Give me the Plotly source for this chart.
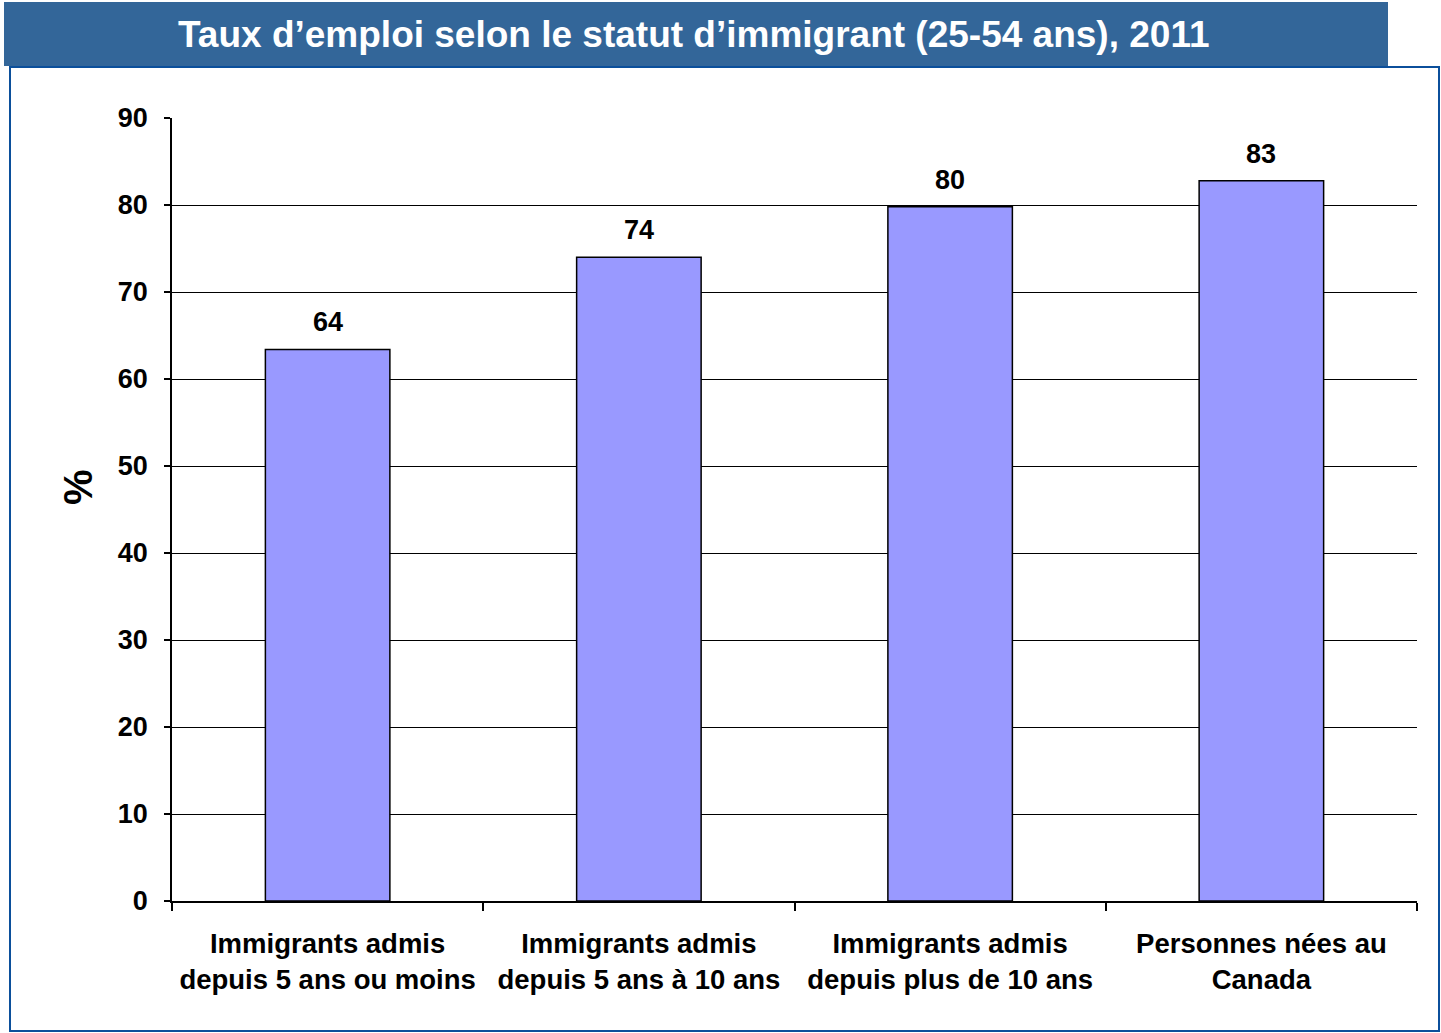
import plotly.graph_objects as go

categories = [
    "Immigrants admis<br>depuis 5 ans ou moins",
    "Immigrants admis<br>depuis 5 ans à 10 ans",
    "Immigrants admis<br>depuis plus de 10 ans",
    "Personnes nées au<br>Canada",
]
values = [63.4, 74.0, 79.8, 82.8]
labels = ["64", "74", "80", "83"]
title_text = "Taux d’emploi selon le statut d’immigrant (25-54 ans), 2011"
y_ticks = [0, 10, 20, 30, 40, 50, 60, 70, 80, 90]

FONT = "Liberation Sans, Arial, sans-serif"

W, H = 1441, 1033
L, R, T, B = 172, 1417, 118, 901
pw, ph = R - L, B - T


def px(x):
    return (x - L) / pw


def py(y):
    return (B - y) / ph


fig = go.Figure()
fig.add_trace(go.Bar(
    x=categories, y=values,
    marker=dict(color="#9999FF", line=dict(color="#000000", width=1.5)),
    width=0.4,
    hoverinfo="skip",
))

for c, v, t in zip(categories, values, labels):
    fig.add_annotation(x=c, y=v, text=f"<b>{t}</b>", showarrow=False,
                       yanchor="bottom", yshift=10,
                       font=dict(family=FONT, size=27, color="#000000"))

# title bar
fig.add_shape(type="rect", xref="paper", yref="paper",
              x0=px(4), x1=px(1388), y0=py(66), y1=py(2),
              fillcolor="#336699", line=dict(width=0), layer="below")
fig.add_annotation(xref="paper", yref="paper", x=px(694), y=py(35),
                   text=f"<b>{title_text}</b>", showarrow=False,
                   xanchor="center", yanchor="middle",
                   font=dict(family=FONT, size=37, color="#FFFFFF"))
# border
fig.add_shape(type="rect", xref="paper", yref="paper",
              x0=px(10), x1=px(1439), y0=py(1031), y1=py(67),
              fillcolor="rgba(0,0,0,0)", line=dict(color="#0B4F9B", width=2),
              layer="below")
# y axis title
fig.add_annotation(xref="paper", yref="paper", x=px(78), y=py(487),
                   text="<b>%</b>", showarrow=False, textangle=-90,
                   xanchor="center", yanchor="middle",
                   font=dict(family=FONT, size=40, color="#000000"))

fig.update_layout(
    width=W, height=H,
    margin=dict(l=L, r=W - R, t=T, b=H - B, pad=0),
    paper_bgcolor="#FFFFFF", plot_bgcolor="#FFFFFF",
    showlegend=False,
    bargap=0.6,
    font=dict(family=FONT, color="#000000"),
)
fig.update_yaxes(
    range=[0, 90], tickvals=y_ticks, ticktext=[f"<b>{v}</b>" for v in y_ticks],
    showgrid=True, gridcolor="#000000", gridwidth=1,
    showline=True, linecolor="#000000", linewidth=1.5,
    ticks="outside", ticklen=6, tickcolor="#000000", tickwidth=1.5,
    ticklabelstandoff=11,
    tickfont=dict(family=FONT, size=27, color="#000000"),
    zeroline=False,
)
fig.update_xaxes(
    tickvals=categories, ticktext=[f"<b>{c}</b>" for c in categories],
    showline=True, linecolor="#000000", linewidth=1.5,
    ticks="outside", tickson="boundaries", ticklen=8, tickcolor="#000000", tickwidth=1.5,
    ticklabelstandoff=17,
    tickfont=dict(family=FONT, size=27.5, color="#000000"),
    showgrid=False,
)

fig.write_html("out.html")
